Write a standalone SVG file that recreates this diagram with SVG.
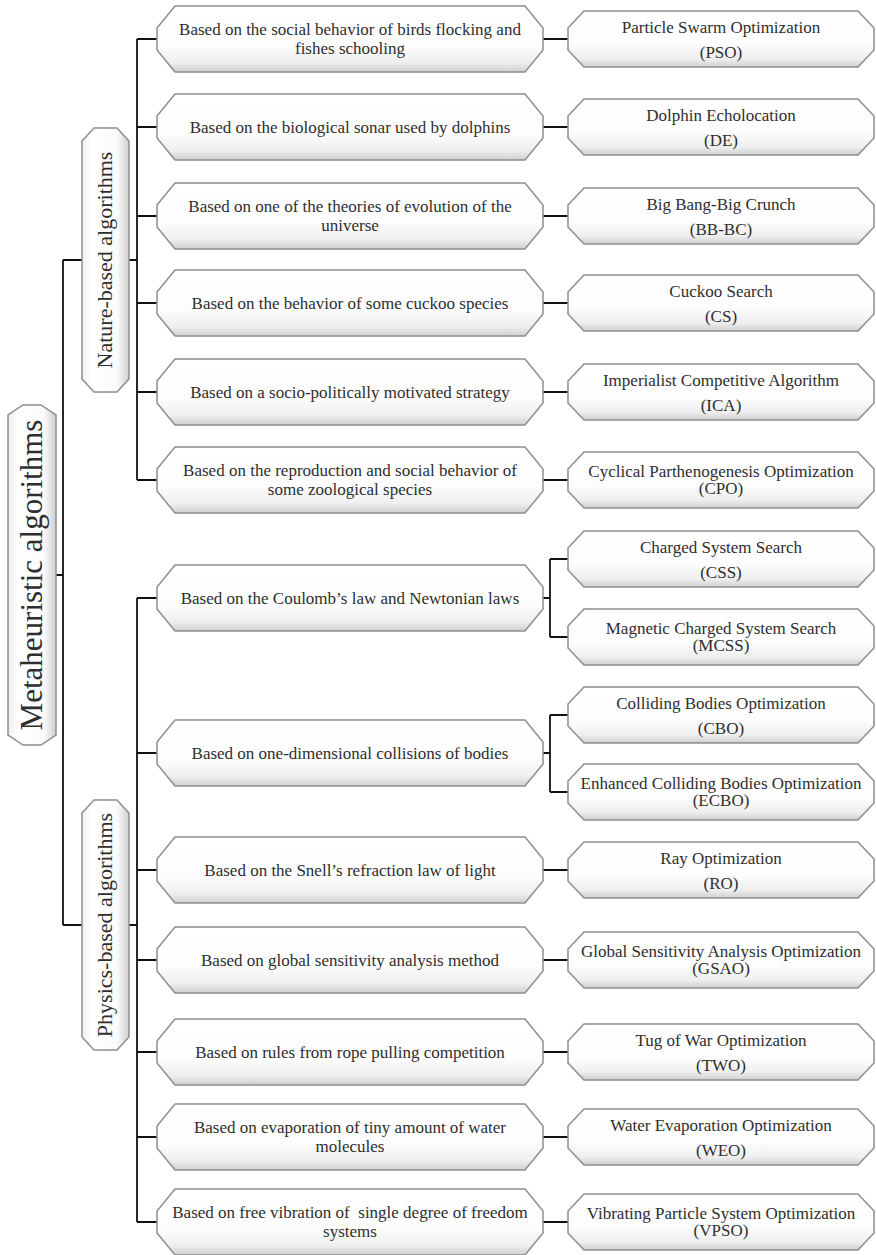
<svg xmlns="http://www.w3.org/2000/svg" width="876" height="1255" viewBox="0 0 876 1255">
<defs>
<linearGradient id="gh" x1="0" y1="0" x2="0" y2="1">
<stop offset="0" stop-color="#ffffff"/><stop offset="0.6" stop-color="#fdfdfd"/><stop offset="0.86" stop-color="#eeeeee"/><stop offset="1" stop-color="#cfcfcf"/>
</linearGradient>
<linearGradient id="gv" x1="0" y1="0" x2="1" y2="0">
<stop offset="0" stop-color="#eeeeee"/><stop offset="0.2" stop-color="#ffffff"/><stop offset="0.75" stop-color="#fbfbfb"/><stop offset="1" stop-color="#cfcfcf"/>
</linearGradient>
</defs>
<style>
.n{fill:url(#gh);stroke:#8e8e8e;stroke-width:1.5}
.v{fill:url(#gv);stroke:#8e8e8e;stroke-width:1.5}
text{font-family:"Liberation Serif","Times New Roman",serif;fill:#2e2e2e;text-anchor:middle}
.t{font-size:17px}
.c{fill:none;stroke:#111;stroke-width:1.8}
</style>

<g id="connectors">
<path class="c" d="M56,575H63M63,260V925M63,260H82M63,925H82"/>
<path class="c" d="M129,260H137M137,39V480M137,39H157M137,127H157M137,216H157M137,303H157M137,392H157M137,480H157"/>
<path class="c" d="M129,925H137M137,598V1222M137,598H157M137,753H157M137,870H157M137,960H157M137,1052H157M137,1137H157M137,1222H157"/>
<path class="c" d="M543,39H568M543,127H568M543,216H568M543,303H568M543,392H568M543,480H568"/>
<path class="c" d="M543,598H550M550,559V637M550,559H568M550,637H568"/>
<path class="c" d="M543,753H550M550,715V792M550,715H568M550,792H568"/>
<path class="c" d="M543,870H568M543,960H568M543,1052H568M543,1137H568M543,1222H568"/>
</g>

<g id="root">
<path class="v" d="M23,405H41L56,415V735L41,745H23L8,735V415Z"/>
<text transform="translate(42,575) rotate(-90)" style="font-size:31px">Metaheuristic algorithms</text>
</g>
<g id="nature">
<path class="v" d="M94,128H117L129,141V379L117,392H94L82,379V141Z"/>
<text transform="translate(112,260) rotate(-90)" style="font-size:22px">Nature-based algorithms</text>
</g>
<g id="physics">
<path class="v" d="M94,800H117L129,813V1037L117,1050H94L82,1037V813Z"/>
<text transform="translate(112,925) rotate(-90)" style="font-size:22px">Physics-based algorithms</text>
</g>

<g id="n1"><path class="n" d="M175,6H525L543,28V50L525,72H175L157,50V28Z"/><text class="t" x="350" y="35">Based on the social behavior of birds flocking and</text><text class="t" x="350" y="54">fishes schooling</text></g>
<g id="n2"><path class="n" d="M175,94H525L543,116V138L525,160H175L157,138V116Z"/><text class="t" x="350" y="133">Based on the biological sonar used by dolphins</text></g>
<g id="n3"><path class="n" d="M175,183H525L543,205V227L525,249H175L157,227V205Z"/><text class="t" x="350" y="212">Based on one of the theories of evolution of the</text><text class="t" x="350" y="231">universe</text></g>
<g id="n4"><path class="n" d="M175,270H525L543,292V314L525,336H175L157,314V292Z"/><text class="t" x="350" y="309">Based on the behavior of some cuckoo species</text></g>
<g id="n5"><path class="n" d="M175,359H525L543,381V403L525,425H175L157,403V381Z"/><text class="t" x="350" y="398">Based on a socio-politically motivated strategy</text></g>
<g id="n6"><path class="n" d="M175,447H525L543,469V491L525,513H175L157,491V469Z"/><text class="t" x="350" y="476">Based on the reproduction and social behavior of</text><text class="t" x="350" y="495">some zoological species</text></g>
<g id="p1"><path class="n" d="M175,565H525L543,587V609L525,631H175L157,609V587Z"/><text class="t" x="350" y="604">Based on the Coulomb’s law and Newtonian laws</text></g>
<g id="p2"><path class="n" d="M175,720H525L543,742V764L525,786H175L157,764V742Z"/><text class="t" x="350" y="759">Based on one-dimensional collisions of bodies</text></g>
<g id="p3"><path class="n" d="M175,837H525L543,859V881L525,903H175L157,881V859Z"/><text class="t" x="350" y="876">Based on the Snell’s refraction law of light</text></g>
<g id="p4"><path class="n" d="M175,927H525L543,949V971L525,993H175L157,971V949Z"/><text class="t" x="350" y="966">Based on global sensitivity analysis method</text></g>
<g id="p5"><path class="n" d="M175,1019H525L543,1041V1063L525,1085H175L157,1063V1041Z"/><text class="t" x="350" y="1058">Based on rules from rope pulling competition</text></g>
<g id="p6"><path class="n" d="M175,1104H525L543,1126V1148L525,1170H175L157,1148V1126Z"/><text class="t" x="350" y="1133">Based on evaporation of tiny amount of water</text><text class="t" x="350" y="1152">molecules</text></g>
<g id="p7"><path class="n" d="M175,1189H525L543,1211V1233L525,1255H175L157,1233V1211Z"/><text class="t" x="350" y="1218" xml:space="preserve">Based on free vibration of  single degree of freedom</text><text class="t" x="350" y="1237">systems</text></g>

<g id="r-pso"><path class="n" d="M584,11H858L874,28V50L858,67H584L568,50V28Z"/><text class="t" x="721" y="33">Particle Swarm Optimization</text><text class="t" x="721" y="58">(PSO)</text></g>
<g id="r-de"><path class="n" d="M584,99H858L874,116V138L858,155H584L568,138V116Z"/><text class="t" x="721" y="121">Dolphin Echolocation</text><text class="t" x="721" y="146">(DE)</text></g>
<g id="r-bbbc"><path class="n" d="M584,188H858L874,205V227L858,244H584L568,227V205Z"/><text class="t" x="721" y="210">Big Bang-Big Crunch</text><text class="t" x="721" y="235">(BB-BC)</text></g>
<g id="r-cs"><path class="n" d="M584,275H858L874,292V314L858,331H584L568,314V292Z"/><text class="t" x="721" y="297">Cuckoo Search</text><text class="t" x="721" y="322">(CS)</text></g>
<g id="r-ica"><path class="n" d="M584,364H858L874,381V403L858,420H584L568,403V381Z"/><text class="t" x="721" y="386">Imperialist Competitive Algorithm</text><text class="t" x="721" y="411">(ICA)</text></g>
<g id="r-cpo"><path class="n" d="M584,452H858L874,469V491L858,508H584L568,491V469Z"/><text class="t" x="721" y="477">Cyclical Parthenogenesis Optimization</text><text class="t" x="721" y="494">(CPO)</text></g>
<g id="r-css"><path class="n" d="M584,531H858L874,548V570L858,587H584L568,570V548Z"/><text class="t" x="721" y="553">Charged System Search</text><text class="t" x="721" y="578">(CSS)</text></g>
<g id="r-mcss"><path class="n" d="M584,609H858L874,626V648L858,665H584L568,648V626Z"/><text class="t" x="721" y="634">Magnetic Charged System Search</text><text class="t" x="721" y="651">(MCSS)</text></g>
<g id="r-cbo"><path class="n" d="M584,687H858L874,704V726L858,743H584L568,726V704Z"/><text class="t" x="721" y="709">Colliding Bodies Optimization</text><text class="t" x="721" y="734">(CBO)</text></g>
<g id="r-ecbo"><path class="n" d="M584,764H858L874,781V803L858,820H584L568,803V781Z"/><text class="t" x="721" y="789">Enhanced Colliding Bodies Optimization</text><text class="t" x="721" y="806">(ECBO)</text></g>
<g id="r-ro"><path class="n" d="M584,842H858L874,859V881L858,898H584L568,881V859Z"/><text class="t" x="721" y="864">Ray Optimization</text><text class="t" x="721" y="889">(RO)</text></g>
<g id="r-gsao"><path class="n" d="M584,932H858L874,949V971L858,988H584L568,971V949Z"/><text class="t" x="721" y="957">Global Sensitivity Analysis Optimization</text><text class="t" x="721" y="974">(GSAO)</text></g>
<g id="r-two"><path class="n" d="M584,1024H858L874,1041V1063L858,1080H584L568,1063V1041Z"/><text class="t" x="721" y="1046">Tug of War Optimization</text><text class="t" x="721" y="1071">(TWO)</text></g>
<g id="r-weo"><path class="n" d="M584,1109H858L874,1126V1148L858,1165H584L568,1148V1126Z"/><text class="t" x="721" y="1131">Water Evaporation Optimization</text><text class="t" x="721" y="1156">(WEO)</text></g>
<g id="r-vpso"><path class="n" d="M584,1194H858L874,1211V1233L858,1250H584L568,1233V1211Z"/><text class="t" x="721" y="1219">Vibrating Particle System Optimization</text><text class="t" x="721" y="1236">(VPSO)</text></g>
</svg>
